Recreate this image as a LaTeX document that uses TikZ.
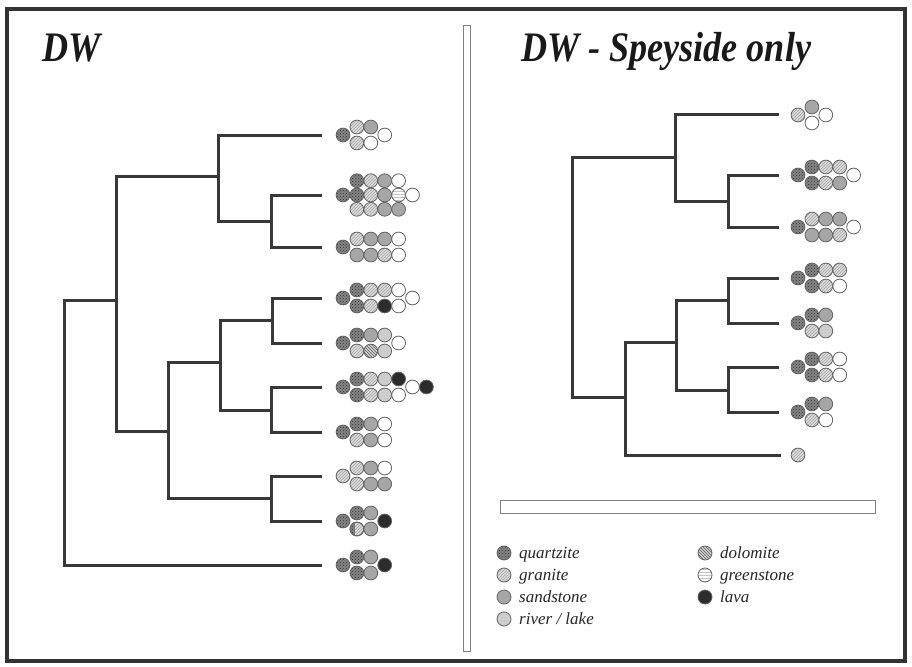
\documentclass[tikz,border=0pt]{standalone}
\usepackage{fontspec}
\setmainfont{Liberation Serif}
\usetikzlibrary{patterns}
\definecolor{treecol}{HTML}{383838}
\definecolor{framecol}{HTML}{333333}
\definecolor{ballline}{HTML}{636363}
\definecolor{qzfill}{HTML}{858585}
\definecolor{qzdots}{HTML}{2E2E2E}
\definecolor{grfill}{HTML}{DEDEDE}
\definecolor{grline}{HTML}{A0A0A0}
\definecolor{sdfill}{HTML}{A6A6A6}
\definecolor{rvfill}{HTML}{CFCFCF}
\definecolor{rvdots}{HTML}{ACACAC}
\definecolor{dlfill}{HTML}{D6D6D6}
\definecolor{dlline}{HTML}{555555}
\definecolor{gsline}{HTML}{C4C4C4}
\definecolor{lvfill}{HTML}{2C2C2C}
\newfontfamily\titlefont{Liberation Serif}
\newcommand{\clus}[3]{%
  \foreach \ci/\cj/\ck in {#3} {\path[\ck] ({#1+\ci*13.9},{#2+(\cj)}) circle [radius=6.9pt];}}
\tikzset{
  ball/.style={draw=ballline, line width=0.8pt},
  qz/.style={ball, preaction={fill=qzfill}, pattern=crosshatch dots, pattern color=qzdots},
  gr/.style={ball, preaction={fill=grfill}, pattern=north east lines, pattern color=grline},
  sd/.style={ball, fill=sdfill},
  rv/.style={ball, preaction={fill=rvfill}, pattern=dots, pattern color=rvdots},
  dl/.style={ball, preaction={fill=dlfill}, pattern=north west lines, pattern color=dlline},
  gs/.style={ball, preaction={fill=white}, pattern=horizontal lines, pattern color=gsline},
  lv/.style={ball, fill=lvfill},
  wh/.style={ball, fill=white},
  branch/.style={draw=treecol, line width=3pt, line cap=rect, line join=miter},
  title/.style={font=\titlefont\fontsize{42}{42}\selectfont\bfseries\itshape, inner sep=0pt, anchor=base west, xscale=0.86, text=black!90},
  legtext/.style={font=\fontsize{17}{17}\selectfont\itshape, inner sep=0pt, anchor=base west, text=black!85},
}
\begin{document}
\begin{tikzpicture}[x=1pt, y=-1pt]
\useasboundingbox (0,0) rectangle (912,666);
\fill[white] (0,0) rectangle (912,666);
% frame and divider
\draw[framecol, line width=4pt] (7,9) rectangle (905,661);
\draw[gray, line width=1pt] (463,26) rectangle (470,651);
\draw[gray, line width=1pt] (500,500) rectangle (875,513);
% titles
\node[title] (t1) at (42,62) {DW};
\node[title] (t2) at (521,62) {DW - Speyside only};

% ---------- left tree ----------
\coordinate (l1) at (320,135);
\coordinate (l2) at (320,195);
\coordinate (l3) at (320,247);
\coordinate (l4) at (320,298);
\coordinate (l5) at (320,343);
\coordinate (l6) at (320,387);
\coordinate (l7) at (320,432);
\coordinate (l8) at (320,476);
\coordinate (l9) at (320,521);
\coordinate (l10) at (320,565);
\coordinate (nB) at (271,221);
\coordinate (nA) at (218,176);
\coordinate (nD) at (272,320);
\coordinate (nF) at (271,410);
\coordinate (nE) at (220,362);
\coordinate (nH) at (271,498);
\coordinate (nG) at (168,431);
\coordinate (nC) at (116,300);
\coordinate (nR) at (64,432);
\draw[branch] (nR) |- (nC);
\draw[branch] (nR) |- (l10);
\draw[branch] (nC) |- (nA);
\draw[branch] (nC) |- (nG);
\draw[branch] (nA) |- (l1);
\draw[branch] (nA) |- (nB);
\draw[branch] (nB) |- (l2);
\draw[branch] (nB) |- (l3);
\draw[branch] (nG) |- (nE);
\draw[branch] (nG) |- (nH);
\draw[branch] (nE) |- (nD);
\draw[branch] (nE) |- (nF);
\draw[branch] (nD) |- (l4);
\draw[branch] (nD) |- (l5);
\draw[branch] (nF) |- (l6);
\draw[branch] (nF) |- (l7);
\draw[branch] (nH) |- (l8);
\draw[branch] (nH) |- (l9);

% left clusters
\clus{343}{135}{0/0/qz, 1/-8/gr, 2/-8/sd, 1/8/gr, 2/8/wh, 3/0/wh}
\clus{343}{195}{0/0/qz, 1/-14.3/qz, 2/-14.3/gr, 3/-14.3/sd, 4/-14.3/wh, 1/0/qz, 2/0/gr, 3/0/sd, 4/0/gs, 5/0/wh, 1/14.3/gr, 2/14.3/gr, 3/14.3/sd, 4/14.3/sd}
\clus{343}{247}{0/0/qz, 1/-8/gr, 2/-8/sd, 3/-8/sd, 4/-8/wh, 1/8/sd, 2/8/sd, 3/8/gr, 4/8/wh}
\clus{343}{298}{0/0/qz, 1/-8/qz, 2/-8/gr, 3/-8/gr, 4/-8/wh, 1/8/qz, 2/8/gr, 3/8/lv, 4/8/wh, 5/0/wh}
\clus{343}{343}{0/0/qz, 1/-8/qz, 2/-8/sd, 3/-8/rv, 1/8/gr, 2/8/dl, 3/8/rv, 4/0/wh}
\clus{343}{387}{0/0/qz, 1/-8/qz, 2/-8/gr, 3/-8/rv, 4/-8/lv, 1/8/qz, 2/8/gr, 3/8/rv, 4/8/wh, 5/0/wh, 6/0/lv}
\clus{343}{432}{0/0/qz, 1/-8/qz, 2/-8/sd, 3/-8/wh, 1/8/gr, 2/8/sd, 3/8/wh}
\clus{343}{476}{0/0/gr, 1/-8/gr, 2/-8/sd, 3/-8/wh, 1/8/gr, 2/8/sd, 3/8/sd}
\clus{343}{521}{0/0/qz, 1/-8/qz, 2/-8/sd, 1/8/gr, 2/8/sd, 3/0/lv}
\begin{scope}
  \clip (356.9,529) circle [radius=6.9pt];
  \fill[qzfill] (349,520) rectangle (355,537);
  \path[pattern=crosshatch dots, pattern color=qzdots] (349,520) rectangle (355,537);
\end{scope}
\draw[ballline, line width=0.8pt] (356.9,529) circle [radius=6.9pt];
\clus{343}{565}{0/0/qz, 1/-8/qz, 2/-8/sd, 1/8/qz, 2/8/sd, 3/0/lv}

% ---------- right tree ----------
\coordinate (r1) at (777,115);
\coordinate (r2) at (777,175);
\coordinate (r3) at (777,227);
\coordinate (r4) at (777,278);
\coordinate (r5) at (777,323);
\coordinate (r6) at (777,367);
\coordinate (r7) at (777,412);
\coordinate (r8) at (779,455);
\coordinate (mB) at (728,201);
\coordinate (mA) at (675,157);
\coordinate (mD) at (728,300);
\coordinate (mF) at (728,390);
\coordinate (mE) at (676,342);
\coordinate (mG) at (625,397);
\coordinate (mC) at (572,277);
\draw[branch] (mC) |- (mA);
\draw[branch] (mC) |- (mG);
\draw[branch] (mA) |- (r1);
\draw[branch] (mA) |- (mB);
\draw[branch] (mB) |- (r2);
\draw[branch] (mB) |- (r3);
\draw[branch] (mG) |- (mE);
\draw[branch] (mG) |- (r8);
\draw[branch] (mE) |- (mD);
\draw[branch] (mE) |- (mF);
\draw[branch] (mD) |- (r4);
\draw[branch] (mD) |- (r5);
\draw[branch] (mF) |- (r6);
\draw[branch] (mF) |- (r7);

% right clusters
\clus{798}{115}{0/0/gr, 1/-8/sd, 1/8/wh, 2/0/wh}
\clus{798}{175}{0/0/qz, 1/-8/qz, 2/-8/gr, 3/-8/gr, 1/8/qz, 2/8/gr, 3/8/sd, 4/0/wh}
\clus{798}{227}{0/0/qz, 1/-8/gr, 2/-8/sd, 3/-8/sd, 1/8/sd, 2/8/sd, 3/8/gr, 4/0/wh}
\clus{798}{278}{0/0/qz, 1/-8/qz, 2/-8/gr, 3/-8/gr, 1/8/qz, 2/8/gr, 3/8/wh}
\clus{798}{323}{0/0/qz, 1/-8/qz, 2/-8/sd, 1/8/gr, 2/8/rv}
\clus{798}{367}{0/0/qz, 1/-8/qz, 2/-8/gr, 3/-8/wh, 1/8/qz, 2/8/gr, 3/8/wh}
\clus{798}{412}{0/0/qz, 1/-8/qz, 2/-8/sd, 1/8/gr, 2/8/wh}
\clus{798}{455}{0/0/gr}

% ---------- legend ----------
\path[qz] (504,553) circle [radius=7pt];
\path[gr] (504,575) circle [radius=7pt];
\path[sd] (504,597) circle [radius=7pt];
\path[rv] (504,619) circle [radius=7pt];
\path[dl] (705,553) circle [radius=7pt];
\path[gs] (705,575) circle [radius=7pt];
\path[lv] (705,597) circle [radius=7pt];
\node[legtext] (k1) at (519,558) {quartzite};
\node[legtext] (k2) at (519,580) {granite};
\node[legtext] (k3) at (519,602) {sandstone};
\node[legtext] (k4) at (519,624) {river / lake};
\node[legtext] (k5) at (720,558) {dolomite};
\node[legtext] (k6) at (720,580) {greenstone};
\node[legtext] (k7) at (720,602) {lava};
\end{tikzpicture}
\end{document}
